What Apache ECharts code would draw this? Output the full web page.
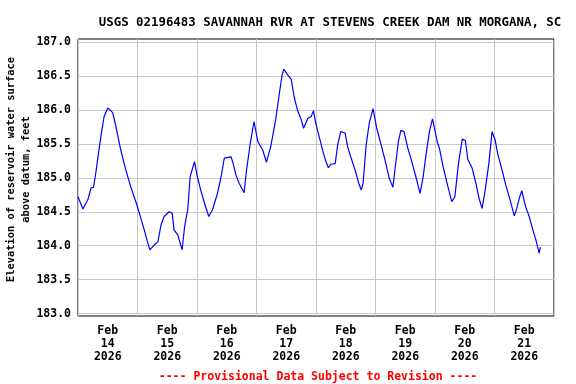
<!DOCTYPE html>
<html>
<head>
<meta charset="utf-8">
<script src="https://cdn.jsdelivr.net/npm/echarts@6/dist/echarts.min.js"></script>
<style>html,body{margin:0;padding:0;background:#fff}#c{width:576px;height:384px}</style>
</head>
<body>
<div id="c"></div>
<script>
const chartTitle = "USGS 02196483 SAVANNAH RVR AT STEVENS CREEK DAM NR MORGANA, SC";
const yAxisName = "Elevation of reservoir water surface\nabove datum, feet";
const footer = "---- Provisional Data Subject to Revision ----";
const yTicks = [183.0, 183.5, 184.0, 184.5, 185.0, 185.5, 186.0, 186.5, 187.0];
const dayTicks = ["2026-02-14","2026-02-15","2026-02-16","2026-02-17","2026-02-18","2026-02-19","2026-02-20","2026-02-21","2026-02-22"];
const times = [
 "2026-02-14T00:00","2026-02-14T02:00","2026-02-14T03:15","2026-02-14T04:00","2026-02-14T05:15","2026-02-14T06:15","2026-02-14T07:15","2026-02-14T08:15","2026-02-14T09:15","2026-02-14T10:30","2026-02-14T12:00","2026-02-14T14:00","2026-02-14T15:15","2026-02-14T17:15","2026-02-14T19:15","2026-02-14T21:15","2026-02-14T23:30",
 "2026-02-15T00:45","2026-02-15T02:45","2026-02-15T04:00","2026-02-15T05:00","2026-02-15T06:45","2026-02-15T08:15","2026-02-15T09:30","2026-02-15T10:45","2026-02-15T12:45","2026-02-15T14:00","2026-02-15T14:45","2026-02-15T16:15","2026-02-15T18:00","2026-02-15T19:00","2026-02-15T20:15","2026-02-15T21:15","2026-02-15T23:00",
 "2026-02-16T00:00","2026-02-16T01:30","2026-02-16T03:00","2026-02-16T04:45","2026-02-16T06:15","2026-02-16T07:00","2026-02-16T08:15","2026-02-16T09:45","2026-02-16T11:00","2026-02-16T13:45","2026-02-16T14:30","2026-02-16T15:45","2026-02-16T17:00","2026-02-16T19:00","2026-02-16T20:00","2026-02-16T21:30","2026-02-16T23:00",
 "2026-02-17T00:30","2026-02-17T02:30","2026-02-17T04:00","2026-02-17T05:45","2026-02-17T07:45","2026-02-17T09:15","2026-02-17T10:15","2026-02-17T11:00","2026-02-17T12:30","2026-02-17T14:00","2026-02-17T15:15","2026-02-17T16:30","2026-02-17T18:00","2026-02-17T19:00","2026-02-17T20:45","2026-02-17T22:00","2026-02-17T23:00","2026-02-17T23:45",
 "2026-02-18T00:45","2026-02-18T01:15","2026-02-18T03:00","2026-02-18T04:00","2026-02-18T05:00","2026-02-18T06:00","2026-02-18T07:45","2026-02-18T08:45","2026-02-18T10:00","2026-02-18T11:45","2026-02-18T12:45","2026-02-18T14:00","2026-02-18T14:45","2026-02-18T16:00","2026-02-18T17:15","2026-02-18T18:15","2026-02-18T19:00","2026-02-18T20:15","2026-02-18T21:30","2026-02-18T23:00",
 "2026-02-19T00:30","2026-02-19T02:15","2026-02-19T04:00","2026-02-19T05:30","2026-02-19T07:00","2026-02-19T08:15","2026-02-19T09:15","2026-02-19T10:15","2026-02-19T11:30","2026-02-19T13:00","2026-02-19T14:15","2026-02-19T16:15","2026-02-19T18:00","2026-02-19T19:15","2026-02-19T20:15","2026-02-19T21:45","2026-02-19T23:00",
 "2026-02-20T01:00","2026-02-20T01:45","2026-02-20T03:15","2026-02-20T05:00","2026-02-20T06:45","2026-02-20T08:00","2026-02-20T09:30","2026-02-20T11:00","2026-02-20T12:15","2026-02-20T13:15","2026-02-20T15:00","2026-02-20T16:30","2026-02-20T17:45","2026-02-20T19:00","2026-02-20T20:15","2026-02-20T21:45","2026-02-20T23:00",
 "2026-02-21T00:15","2026-02-21T01:15","2026-02-21T03:00","2026-02-21T04:30","2026-02-21T06:15","2026-02-21T08:00","2026-02-21T09:00","2026-02-21T10:00","2026-02-21T11:00","2026-02-21T12:30","2026-02-21T14:00","2026-02-21T15:30","2026-02-21T16:45","2026-02-21T18:00","2026-02-21T18:30"
];
const levels = [
 184.72,184.54,184.63,184.68,184.85,184.86,185.09,185.36,185.61,185.90,186.03,185.96,185.76,185.41,185.12,184.87,184.63,
 184.48,184.23,184.06,183.94,184.01,184.06,184.31,184.43,184.50,184.48,184.23,184.16,183.94,184.28,184.53,185.02,185.24,
 185.04,184.82,184.63,184.43,184.53,184.55,184.77,185.02,185.29,185.31,185.22,185.04,184.92,184.78,185.12,185.51,185.83,
 185.54,185.41,185.23,185.46,185.86,186.25,186.50,186.60,186.52,186.45,186.18,186.00,185.86,185.73,185.88,185.90,185.99,185.83,
 185.68,185.61,185.36,185.24,185.15,185.20,185.21,185.49,185.68,185.66,185.46,185.31,185.29,185.09,184.92,184.82,184.92,185.49,185.81,186.02,
 185.73,185.49,185.24,185.00,184.86,185.24,185.54,185.70,185.68,185.44,185.29,185.02,184.77,185.02,185.31,185.68,185.87,
 185.52,185.44,185.17,184.90,184.65,184.72,185.22,185.57,185.55,185.27,185.14,184.92,184.70,184.55,184.82,185.22,185.68,
 185.56,185.36,185.12,184.90,184.68,184.44,184.55,184.70,184.81,184.58,184.43,184.23,184.08,183.89,183.98
];

const MONTHS = ["Jan","Feb","Mar","Apr","May","Jun","Jul","Aug","Sep","Oct","Nov","Dec"];
const ts = s => new Date(s.length === 10 ? s + "T00:00:00" : s + ":00").getTime();
const midnights = dayTicks.map(ts);
const noons = dayTicks.slice(0, -1).map(d => ts(d) + 12 * 3600 * 1000);
const data = times.map((t, i) => [ts(t), levels[i]]);
const mono = "'DejaVu Sans Mono', 'Liberation Mono', monospace";

const chart = echarts.init(document.getElementById('c'), null, {renderer: 'canvas'});
chart.setOption({
  animation: false,
  backgroundColor: '#ffffff',
  title: [
    {text: chartTitle, left: 325, top: 12, textAlign: 'center',
     textStyle: {fontFamily: mono, fontWeight: 'bold', fontSize: 12.4, color: '#000'}},
    {text: footer, left: 313, top: 366, textAlign: 'center',
     textStyle: {fontFamily: mono, fontWeight: 'bold', fontSize: 11.5, color: '#ff0000'}}
  ],
  grid: {left: 78, right: 22, top: 39, bottom: 68, show: true, borderColor: '#000', borderWidth: 1,
         containLabel: false, outerBoundsMode: 'none'},
  xAxis: {
    type: 'value',
    min: midnights[0], max: midnights[midnights.length - 1],
    axisLine: {show: false},
    axisTick: {show: false, customValues: midnights},
    splitLine: {show: true, lineStyle: {color: '#c8c8c8', width: 1}},
    axisLabel: {
      customValues: noons, margin: 9, color: '#000',
      fontFamily: mono, fontWeight: 'bold', fontSize: 11.5, lineHeight: 13,
      formatter: v => { const d = new Date(v); return MONTHS[d.getMonth()] + "\n" + d.getDate() + "\n" + d.getFullYear(); }
    }
  },
  yAxis: {
    type: 'value', min: 182.965, max: 187.045,
    name: yAxisName, nameLocation: 'middle', nameGap: 44, nameRotate: 90, nameMoveOverlap: false,
    nameTextStyle: {fontFamily: mono, fontWeight: 'bold', fontSize: 10.4, lineHeight: 15, color: '#000', padding: [0, 0, 0, 16]},
    axisLine: {show: false},
    axisTick: {show: false, customValues: yTicks},
    splitLine: {show: true, lineStyle: {color: '#c8c8c8', width: 1}},
    axisLabel: {customValues: yTicks, margin: 7, color: '#000', fontFamily: mono, fontWeight: 'bold', fontSize: 11.5,
      formatter: v => v.toFixed(1)}
  },
  series: [{
    type: 'line', data: data, showSymbol: false,
    lineStyle: {color: '#0000ff', width: 1.2}, itemStyle: {color: '#0000ff'}
  }]
});
</script>
</body>
</html>
